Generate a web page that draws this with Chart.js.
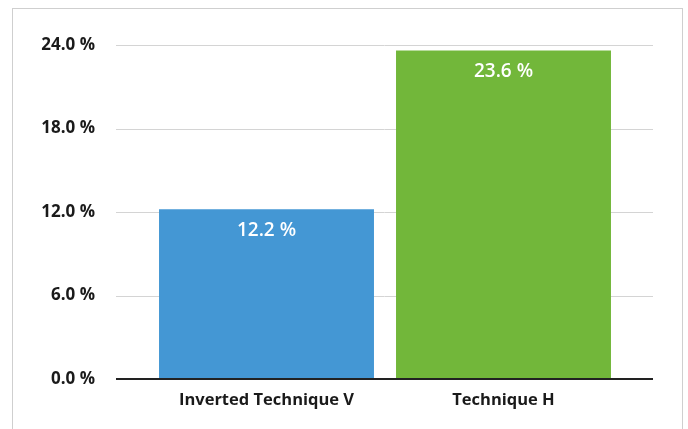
<!DOCTYPE html>
<html>
<head>
<meta charset="utf-8">
<script src="https://cdn.jsdelivr.net/npm/chart.js@4"></script>
<style>
  html, body { margin: 0; padding: 0; background: #fff; }
  #wrap { position: relative; width: 688px; height: 429px; overflow: hidden; }
  #frame { position: absolute; left: 12px; top: 8px; width: 669px; height: 440px; border: 1px solid #cfcfcf; }
  canvas { position: absolute; left: 0; top: 0; }
</style>
</head>
<body>
<div id="wrap">
  <div id="frame"></div>
  <canvas id="techChart" width="688" height="429"></canvas>
</div>
<script>
// Share by technique (%)
const categories = ['Inverted Technique V', 'Technique H'];
const shareValues = [12.2, 23.6];
const barColors = ['#4497d4', '#72b73a'];
const yTickFont = { family: 'Open Sans', size: 17, weight: '700' };
const xTickFont = { family: 'Open Sans', size: 16.5, weight: '700' };

// horizontal grid + base line, a bit wider than the bar area
const gridPlugin = {
  id: 'wideGrid',
  beforeDatasetsDraw(chart) {
    const c = chart.ctx;
    const area = chart.chartArea;
    const y = chart.scales.y;
    const x0 = area.left - 32;
    const x1 = area.right + 31;
    c.save();
    y.ticks.forEach(function (t) {
      const py = Math.round(y.getPixelForValue(t.value));
      if (t.value === 0) return;
      c.strokeStyle = '#d4d4d4';
      c.lineWidth = 1;
      c.beginPath();
      c.moveTo(x0, py + 0.5);
      c.lineTo(x1, py + 0.5);
      c.stroke();
    });
    c.restore();
  },
  afterDatasetsDraw(chart) {
    const c = chart.ctx;
    const area = chart.chartArea;
    const y = chart.scales.y;
    const py = y.getPixelForValue(0);
    c.save();
    c.strokeStyle = '#222';
    c.lineWidth = 2;
    c.beginPath();
    c.moveTo(area.left - 32, py);
    c.lineTo(area.right + 31, py);
    c.stroke();

    // value labels inside the bars
    const meta = chart.getDatasetMeta(0);
    c.fillStyle = '#ffffff';
    c.font = '600 19px "Open Sans"';
    c.textAlign = 'center';
    c.textBaseline = 'middle';
    meta.data.forEach(function (bar, i) {
      c.fillText(shareValues[i].toFixed(1) + ' %', bar.x, bar.y + 21);
    });
    c.restore();
  }
};

new Chart(document.getElementById('techChart').getContext('2d'), {
  type: 'bar',
  data: {
    labels: categories,
    datasets: [{
      data: shareValues,
      backgroundColor: barColors,
      borderWidth: 0,
      categoryPercentage: 1,
      barPercentage: 0.907
    }]
  },
  options: {
    responsive: false,
    animation: false,
    layout: { padding: { left: 12, right: 66, top: 45, bottom: 0 } },
    plugins: {
      legend: { display: false },
      tooltip: { enabled: false }
    },
    scales: {
      x: {
        grid: { display: false, drawTicks: false },
        border: { display: false },
        ticks: { color: '#1a1a1a', font: xTickFont, padding: 11 },
        afterFit: function (s) { s.height = 50; }
      },
      y: {
        min: 0,
        max: 24,
        grid: { display: false, drawTicks: false },
        border: { display: false },
        ticks: {
          stepSize: 6,
          color: '#1a1a1a',
          font: yTickFont,
          padding: 53,
          callback: function (v) { return v.toFixed(1) + ' %'; }
        },
        afterFit: function (s) {
          s.width = 136;
          // tick padding only meant to push labels left, not to shrink the plot
          s.paddingTop = 0;
          s.paddingBottom = 0;
        }
      }
    }
  },
  plugins: [gridPlugin]
});
</script>
</body>
</html>
